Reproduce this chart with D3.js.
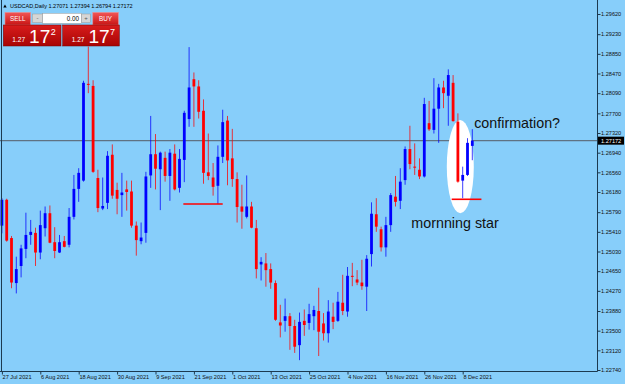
<!DOCTYPE html>
<html><head><meta charset="utf-8">
<script src="https://cdn.jsdelivr.net/npm/d3@7"></script>
<style>
html,body{margin:0;padding:0;background:#87cefa;overflow:hidden;}
svg{display:block;}
text{font-family:"Liberation Sans",Arial,sans-serif;}
</style></head><body>
<svg id="c" width="625" height="384"></svg>
<script>
// ---- data (USDCAD Daily, 27 Jul 2021 .. 10 Dec 2021) ----
const openP  = [1.2553,1.2603,1.2529,1.2442,1.2475,1.2508,1.2535,1.2539,1.2501,1.2548,
                1.2577,1.2521,1.2501,1.2523,1.2516,1.2570,1.2624,1.2640,1.2827,1.2823,
                1.2645,1.2586,1.2597,1.2690,1.2622,1.2612,1.2623,1.2619,1.2553,1.2523,
                1.2539,1.2650,1.2691,1.2662,1.2684,1.2649,1.2692,1.2626,1.2680,1.2759,
                1.2836,1.2822,1.2775,1.2656,1.2646,1.2630,1.2686,1.2756,1.2683,1.2643,
                1.2590,1.2570,1.2590,1.2548,1.2478,1.2480,1.2469,1.2442,1.2366,1.2369,
                1.2378,1.2359,1.2322,1.2369,1.2365,1.2378,1.2388,1.2364,1.2345,1.2377,
                1.2369,1.2404,1.2387,1.2456,1.2449,1.2443,1.2435,1.2498,1.2575,1.2546,
                1.2511,1.2554,1.2609,1.2601,1.2641,1.2701,1.2667,1.2661,1.2648,1.2751,
                1.2738,1.2779,1.2820,1.2804,1.2829,1.2754,1.2640,1.2651,1.27071];
const highP  = [1.2606,1.2605,1.2533,1.2493,1.2516,1.2578,1.2564,1.2549,1.2582,1.2590,
                1.2592,1.2550,1.2535,1.2533,1.2587,1.2651,1.2664,1.2833,1.2899,1.2834,
                1.2661,1.2646,1.2697,1.2710,1.2636,1.2655,1.2640,1.2640,1.2561,1.2559,
                1.2657,1.2765,1.2730,1.2696,1.2696,1.2701,1.2710,1.2701,1.2775,1.2898,
                1.2849,1.2834,1.2797,1.2731,1.2674,1.2708,1.2777,1.2765,1.2740,1.2656,
                1.2632,1.2650,1.2599,1.2564,1.2492,1.2500,1.2480,1.2447,1.2400,1.2412,
                1.2384,1.2371,1.2385,1.2391,1.2402,1.2398,1.2433,1.2384,1.2409,1.2404,
                1.2425,1.2458,1.2473,1.2481,1.2467,1.2487,1.2496,1.2598,1.2606,1.2551,
                1.2570,1.2616,1.2649,1.2664,1.2706,1.2746,1.2712,1.2683,1.2800,1.2794,
                1.2838,1.2827,1.2833,1.2855,1.2844,1.2770,1.2667,1.2722,1.27394];
const lowP   = [1.2538,1.2522,1.2432,1.2422,1.2453,1.2490,1.2516,1.2475,1.2488,1.2532,
                1.2519,1.2490,1.2500,1.2511,1.2511,1.2565,1.2599,1.2638,1.2809,1.2655,
                1.2579,1.2583,1.2585,1.2605,1.2575,1.2570,1.2582,1.2549,1.2495,1.2517,
                1.2520,1.2626,1.2623,1.2583,1.2638,1.2601,1.2621,1.2617,1.2637,1.2744,
                1.2744,1.2760,1.2634,1.2641,1.2611,1.2595,1.2674,1.2631,1.2628,1.2559,
                1.2547,1.2567,1.2548,1.2451,1.2447,1.2435,1.2431,1.2369,1.2337,1.2348,
                1.2313,1.2307,1.2293,1.2340,1.2352,1.2351,1.2301,1.2331,1.2327,1.2353,
                1.2367,1.2380,1.2377,1.2436,1.2438,1.2429,1.2388,1.2474,1.2541,1.2503,
                1.2493,1.2541,1.2590,1.2585,1.2632,1.2662,1.2651,1.2643,1.2646,1.2736,
                1.2731,1.2713,1.2780,1.2746,1.2754,1.2636,1.2606,1.2649,1.26794];
const closeP = [1.2603,1.2524,1.2443,1.2469,1.2509,1.2535,1.2541,1.2501,1.2554,1.2577,
                1.2520,1.2504,1.2521,1.2512,1.2570,1.2624,1.2655,1.2829,1.2825,1.2657,
                1.2587,1.2591,1.2688,1.2611,1.2605,1.2617,1.2618,1.2553,1.2525,1.2530,
                1.2648,1.2691,1.2663,1.2694,1.2649,1.2694,1.2623,1.2682,1.2771,1.2820,
                1.2822,1.2773,1.2655,1.2649,1.2628,1.2686,1.2753,1.2679,1.2643,1.2589,
                1.2580,1.2590,1.2549,1.2469,1.2483,1.2467,1.2443,1.2371,1.2360,1.2378,
                1.2359,1.2319,1.2367,1.2361,1.2382,1.2390,1.2348,1.2345,1.2387,1.2367,
                1.2406,1.2388,1.2456,1.2454,1.2443,1.2436,1.2489,1.2576,1.2551,1.2511,
                1.2554,1.2612,1.2599,1.2638,1.2701,1.2672,1.2665,1.2648,1.2788,1.2739,
                1.2779,1.2820,1.2809,1.2844,1.2755,1.2638,1.2651,1.2713,1.27172];
const dateLabels = ["27 Jul 2021","6 Aug 2021","18 Aug 2021","30 Aug 2021","9 Sep 2021",
                    "21 Sep 2021","1 Oct 2021","13 Oct 2021","25 Oct 2021","4 Nov 2021",
                    "16 Nov 2021","26 Nov 2021","8 Dec 2021"];
const dateBar = [0,8,16,24,32,40,48,56,64,72,80,88,96];
const priceTicks = [1.29620,1.29230,1.28850,1.28470,1.28090,1.27700,1.27320,1.26940,1.26560,
                    1.26180,1.25790,1.25410,1.25030,1.24650,1.24270,1.23880,1.23500,1.23120,1.22740];
const lastPrice = 1.27172;
const headerText = ["USDCAD,Daily","1.27071","1.27394","1.26794","1.27172"];
const quoteBig = {sell:["1.27","17","2"], buy:["1.27","17","7"]};
// annotations (bar index / price)
const supportLine = {from:37.8, to:46.0, price:1.25948};
const starLine = {from:93.7, to:99.9, price:1.26039};
const starEllipse = {bar:95.5, top:1.27571, bottom:1.25768};
const notes = [{text:"confirmation?", bar:98.4, price:1.27417},
               {text:"mornning star", bar:85.3, price:1.25484}];

// ---- chart ----
const W=625, H=384, plotR=597.5, plotB=371.5;
const svg=d3.select("#c");
const x=d3.scaleLinear().domain([0,98]).range([1.9,472.3]);
const y=d3.scaleLinear().domain([1.22740,1.29620]).range([370,14]);
const bull="#0000ff", bear="#ff0000", axisCol="#1c3a50";

svg.append("rect").attr("width",W).attr("height",H).attr("fill","#87cefa");

// current price line
svg.append("line").attr("x1",0).attr("x2",plotR).attr("y1",y(lastPrice)).attr("y2",y(lastPrice))
  .attr("stroke","#5f7282").attr("stroke-width",1.2);

const bars=d3.range(closeP.length);
const g=svg.append("g");
g.selectAll("line.w").data(bars).join("line").attr("class","w")
  .attr("x1",i=>x(i)).attr("x2",i=>x(i))
  .attr("y1",i=>y(highP[i])).attr("y2",i=>y(lowP[i]))
  .attr("stroke",i=>closeP[i]>=openP[i]?bull:bear).attr("stroke-width",1).attr("opacity",0.75);
g.selectAll("rect.b").data(bars).join("rect").attr("class","b")
  .attr("x",i=>x(i)-1.4).attr("width",2.8)
  .attr("y",i=>y(Math.max(openP[i],closeP[i])))
  .attr("height",i=>Math.max(1,Math.abs(y(openP[i])-y(closeP[i]))))
  .attr("fill",i=>closeP[i]>=openP[i]?bull:bear);

// annotations
svg.append("ellipse").attr("cx",x(starEllipse.bar))
  .attr("cy",(y(starEllipse.top)+y(starEllipse.bottom))/2)
  .attr("rx",13.5).attr("ry",(y(starEllipse.bottom)-y(starEllipse.top))/2)
  .attr("fill","#ffffff");
g.raise();
[supportLine,starLine].forEach(l=>{
  svg.append("line").attr("x1",x(l.from)).attr("x2",x(l.to))
    .attr("y1",y(l.price)).attr("y2",y(l.price))
    .attr("stroke","#ff0000").attr("stroke-width",1.6);
});
svg.selectAll("text.note").data(notes).join("text").attr("class","note")
  .attr("x",d=>x(d.bar)).attr("y",d=>y(d.price))
  .attr("font-size",14.3).attr("fill","#111").text(d=>d.text);

// axes frame
svg.append("line").attr("x1",1.5).attr("x2",1.5).attr("y1",0).attr("y2",plotB).attr("stroke",axisCol).attr("stroke-width",1);
svg.append("line").attr("x1",plotR).attr("x2",plotR).attr("y1",0).attr("y2",plotB).attr("stroke",axisCol).attr("stroke-width",1);
svg.append("line").attr("x1",0).attr("x2",plotR).attr("y1",plotB).attr("y2",plotB).attr("stroke",axisCol).attr("stroke-width",1);

const yAxis=svg.append("g").attr("transform",`translate(${plotR},0)`)
  .call(d3.axisRight(y).tickValues(priceTicks).tickSize(3).tickFormat(d3.format(".5f")));
yAxis.select(".domain").remove();
yAxis.selectAll("line").attr("stroke",axisCol);
yAxis.selectAll("text").attr("x",3.5).attr("font-size",5.6).attr("fill","#111")
  .style("font-family","'Liberation Sans',Arial,sans-serif");

const xAxis=svg.append("g").attr("transform",`translate(0,${plotB})`)
  .call(d3.axisBottom(x).tickValues(dateBar).tickSize(3).tickFormat((d,i)=>dateLabels[i]));
xAxis.select(".domain").remove();
xAxis.selectAll("line").attr("stroke",axisCol);
xAxis.selectAll("text").attr("text-anchor","start").attr("x",0.2).attr("y",4).attr("dy","0.71em")
  .attr("font-size",5.6).attr("fill","#111").style("font-family","'Liberation Sans',Arial,sans-serif");

// last price box
svg.append("rect").attr("x",598).attr("y",y(lastPrice)-4).attr("width",26).attr("height",8).attr("fill","#000");
svg.append("text").attr("x",601).attr("y",y(lastPrice)+2).attr("font-size",5.6).attr("fill","#fff")
  .text(d3.format(".5f")(lastPrice));

// ---- header / trade panel ----
svg.append("path").attr("d","M3.3,7.4 L5,4.4 L6.7,7.4 Z").attr("fill","#000");
svg.append("text").attr("x",10).attr("y",8).attr("font-size",5.5).attr("fill","#000")
  .text(headerText[0]+"  "+headerText.slice(1).join(" "));

const defs=svg.append("defs");
const gb=defs.append("linearGradient").attr("id","btn").attr("x1",0).attr("y1",0).attr("x2",0).attr("y2",1);
gb.append("stop").attr("offset",0).attr("stop-color","#f25656");
gb.append("stop").attr("offset",1).attr("stop-color","#c81414");
const gg=defs.append("linearGradient").attr("id","big").attr("x1",0).attr("y1",0).attr("x2",0).attr("y2",1);
gg.append("stop").attr("offset",0).attr("stop-color","#d81c1c");
gg.append("stop").attr("offset",1).attr("stop-color","#a80404");

function button(x0,w,label){
  svg.append("rect").attr("x",x0).attr("y",12.5).attr("width",w).attr("height",12.5)
    .attr("fill","url(#btn)").attr("stroke","#f08a8a").attr("stroke-width",0.6);
  svg.append("text").attr("x",x0+w/2).attr("y",21).attr("text-anchor","middle")
    .attr("font-size",6.3).attr("fill","#fff").text(label);
}
button(5,25.5,"SELL");
button(92.8,25.5,"BUY");
// spinner
svg.append("rect").attr("x",32.3).attr("y",14).attr("width",10.4).attr("height",8.7).attr("fill","#d6d6d6").attr("stroke","#9a9a9a").attr("stroke-width",0.5);
svg.append("rect").attr("x",42.7).attr("y",13.3).attr("width",39).attr("height",10).attr("fill","#fff").attr("stroke","#9a9a9a").attr("stroke-width",0.5);
svg.append("rect").attr("x",81.7).attr("y",14).attr("width",8.6).attr("height",8.7).attr("fill","#d6d6d6").attr("stroke","#9a9a9a").attr("stroke-width",0.5);
svg.append("text").attr("x",37.5).attr("y",19.5).attr("text-anchor","middle").attr("font-size",6).attr("fill","#555").text("-");
svg.append("text").attr("x",86).attr("y",20).attr("text-anchor","middle").attr("font-size",6).attr("fill","#555").text("+");
svg.append("text").attr("x",79).attr("y",20.8).attr("text-anchor","end").attr("font-size",6.3).attr("fill","#000").text("0.00");

function bigQuote(x0,w,q){
  svg.append("rect").attr("x",x0).attr("y",25).attr("width",w).attr("height",21)
    .attr("fill","url(#big)").attr("stroke","#7a0000").attr("stroke-width",0.5);
  svg.append("text").attr("x",x0+9).attr("y",42.3).attr("font-size",6.6).attr("fill","#fff").text(q[0]);
  svg.append("text").attr("x",x0+25.7).attr("y",42.8).attr("font-size",19.2).attr("fill","#fff").text(q[1]);
  svg.append("text").attr("x",x0+47.4).attr("y",34.8).attr("font-size",9).attr("fill","#fff").text(q[2]);
}
bigQuote(3.3,57.7,quoteBig.sell);
bigQuote(62.7,56.6,quoteBig.buy);
</script>
</body></html>
